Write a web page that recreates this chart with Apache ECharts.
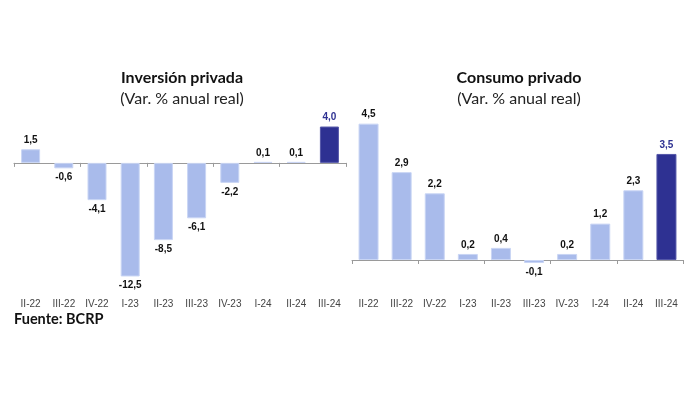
<!DOCTYPE html>
<html>
<head>
<meta charset="utf-8">
<script src="https://cdn.jsdelivr.net/npm/echarts@6/dist/echarts.min.js"></script>
<style>
html,body{margin:0;padding:0;background:#fff;}
#c{width:699px;height:394px;}
</style>
</head>
<body>
<div id="c"></div>
<script>
const categories = ['II-22','III-22','IV-22','I-23','II-23','III-23','IV-23','I-24','II-24','III-24'];
const inversionValues = [1.5, -0.6, -4.1, -12.5, -8.5, -6.1, -2.2, 0.1, 0.1, 4.0];
const consumoValues = [4.5, 2.9, 2.2, 0.2, 0.4, -0.1, 0.2, 1.2, 2.3, 3.5];
const titles = ['Inversión privada', 'Consumo privado'];
const subtitle = '(Var. % anual real)';
const source = 'Fuente: BCRP';

const LIGHT = '#A9BBEB';
const DARK = '#2E3192';

function makeData(vals) {
  return vals.map((v, i) => {
    const last = i === vals.length - 1;
    return {
      value: v,
      itemStyle: { color: last ? DARK : LIGHT, borderColor: last ? '#5457A8' : '#C9D5F4', borderWidth: 1 },
      label: {
        position: v < 0 ? 'bottom' : 'top',
        color: last ? DARK : '#111'
      }
    };
  });
}

const labelStyle = {
  show: true,
  distance: 4,
  fontFamily: 'Liberation Sans, Arial, sans-serif',
  fontWeight: 'bold',
  fontSize: 10,
  formatter: p => p.value.toFixed(1).replace('.', ',')
};

const chart = echarts.init(document.getElementById('c'), null, { renderer: 'canvas' });
chart.setOption({
  animation: false,
  backgroundColor: '#fff',
  title: [
    { text: titles[0], left: 182, top: 70, padding: 0, textAlign: 'center',
      textStyle: { fontFamily: 'Lato', fontWeight: 'bold', fontSize: 16, color: '#111' } },
    { text: subtitle, left: 182, top: 91, padding: 0, textAlign: 'center',
      textStyle: { fontFamily: 'Lato', fontWeight: 'normal', fontSize: 16, color: '#222' } },
    { text: titles[1], left: 519, top: 70, padding: 0, textAlign: 'center',
      textStyle: { fontFamily: 'Lato', fontWeight: 'bold', fontSize: 16, color: '#111' } },
    { text: subtitle, left: 519, top: 91, padding: 0, textAlign: 'center',
      textStyle: { fontFamily: 'Lato', fontWeight: 'normal', fontSize: 16, color: '#222' } },
    { text: source, left: 14, top: 312, padding: 0,
      textStyle: { fontFamily: 'Lato', fontWeight: 'bold', fontSize: 14.5, color: '#111' } }
  ],
  grid: [
    { left: 14, width: 332, top: 122, height: 159 },
    { left: 352, width: 331, top: 108.5, height: 181.8 }
  ],
  xAxis: [
    { gridIndex: 0, type: 'category', data: categories, position: 'bottom',
      axisLine: { onZero: true, lineStyle: { color: '#9a9a9a', width: 1 } },
      axisTick: { show: true, length: 4, lineStyle: { color: '#9a9a9a' } },
      axisLabel: { show: false } },
    { gridIndex: 0, type: 'category', data: categories, position: 'bottom',
      axisLine: { show: false }, axisTick: { show: false },
      axisLabel: { show: true, margin: 18, fontSize: 10, color: '#444', fontFamily: 'Liberation Sans, Arial, sans-serif' } },
    { gridIndex: 1, type: 'category', data: categories, position: 'bottom',
      axisLine: { onZero: true, lineStyle: { color: '#9a9a9a', width: 1 } },
      axisTick: { show: true, length: 4, lineStyle: { color: '#9a9a9a' } },
      axisLabel: { show: false } },
    { gridIndex: 1, type: 'category', data: categories, position: 'bottom',
      axisLine: { show: false }, axisTick: { show: false },
      axisLabel: { show: true, margin: 9, fontSize: 10, color: '#444', fontFamily: 'Liberation Sans, Arial, sans-serif' } }
  ],
  yAxis: [
    { gridIndex: 0, type: 'value', min: -13, max: 4.5, show: false, splitLine: { show: false } },
    { gridIndex: 1, type: 'value', min: -1, max: 5, show: false, splitLine: { show: false } }
  ],
  series: [
    { type: 'bar', xAxisIndex: 0, yAxisIndex: 0, data: makeData(inversionValues),
      barWidth: 19, label: labelStyle },
    { type: 'bar', xAxisIndex: 2, yAxisIndex: 1, data: makeData(consumoValues),
      barWidth: 20, label: labelStyle }
  ]
});
</script>
</body>
</html>
